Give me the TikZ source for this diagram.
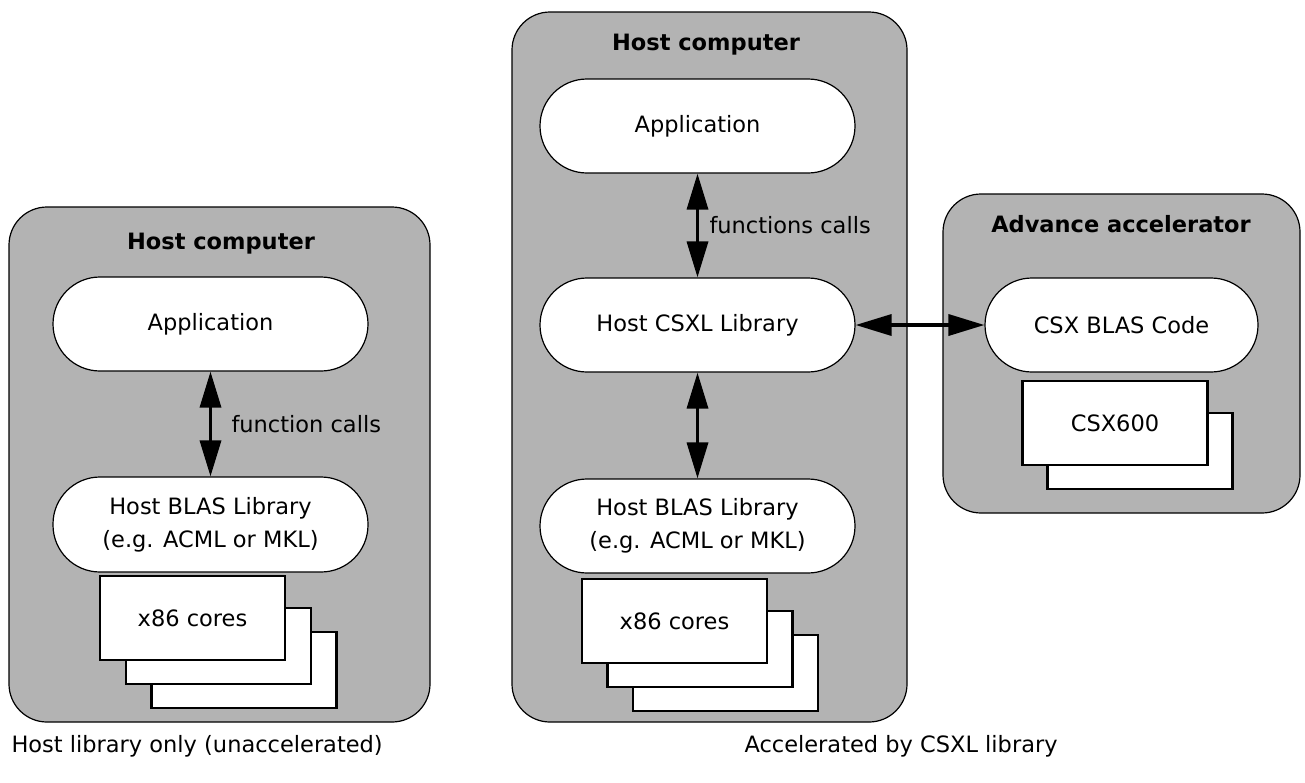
\documentclass[tikz,border=0pt]{standalone}
\usepackage{fontspec}
\setmainfont{DejaVu Sans}
\usetikzlibrary{arrows.meta}
\definecolor{hostgray}{RGB}{179,179,179}
\newcommand{\txt}{\fontsize{22.5}{33}\selectfont}
\begin{document}
\begin{tikzpicture}[x=1pt, y=-1pt]
	\tikzstyle{box}   = [draw=black, line width=1.2pt, fill=hostgray, rounded corners=38pt, inner sep=0pt]
	\tikzstyle{pill}  = [draw=black, line width=1.2pt, fill=white, rounded corners=47pt, minimum width=315pt, minimum height=94pt, inner sep=0pt, align=center, font=\txt]
	\tikzstyle{chip}  = [draw=black, line width=2.5pt, fill=white, minimum width=185pt, inner sep=0pt, font=\txt]
	\tikzstyle{title} = [font=\txt\bfseries]
	\tikzstyle{label} = [font=\txt, anchor=west]
	\tikzstyle{link}  = [{Triangle[length=36pt,width=21pt]}-{Triangle[length=36pt,width=21pt]}, line width=3.5pt]

	\fill[white] (0,0) rectangle (1305,782);
	\useasboundingbox (0,0) rectangle (1305,782);

	% containers
	\node[box, minimum width=421pt, minimum height=515pt] (hostA) at (219.5,464.5) {};
	\node[box, minimum width=395pt, minimum height=710pt] (hostB) at (709.5,367) {};
	\node[box, minimum width=357pt, minimum height=319pt] (accel) at (1121.5,353.5) {};

	\node[title] (titleA) at (221,244) {Host computer};
	\node[title] (titleB) at (706,45) {Host computer};
	\node[title] (titleC) at (1121,224) {Advance accelerator};

	% software layers
	\node[pill] (appA) at (210.5,324) {Application};
	\node[pill, minimum height=95pt] (blasA) at (210.5,524.5) {Host BLAS Library\\(e.g. ACML or MKL)};
	\node[pill] (appB) at (697.5,126) {Application};
	\node[pill] (csxl) at (697.5,325) {Host CSXL Library};
	\node[pill] (blasB) at (697.5,526) {Host BLAS Library\\(e.g. ACML or MKL)};
	\node[pill, minimum width=273pt] (csxcode) at (1121.5,325) {CSX BLAS Code};

	% hardware stacks
	\foreach \name/\x/\y in {coresA3/244/670, coresA2/218.5/646, coresB3/725.5/673, coresB2/700/649, csx2/1140/451}
		\node[chip, minimum height=76pt] (\name) at (\x,\y) {};
	\node[chip, minimum height=84pt] (coresA1) at (192.5,618) {x86 cores};
	\node[chip, minimum height=84pt] (coresB1) at (674.5,621) {x86 cores};
	\node[chip, minimum height=84pt] (csx1) at (1115,423) {CSX600};

	% calls
	\foreach \from/\to in {appA/blasA, appB/csxl, csxl/blasB}
		\draw[link] (\from) -- (\to);
	\draw[link] (csxl.east) -- (csxcode.west);

	\node[label] (callsA) at (228,424) {function calls};
	\node[label] (callsB) at (706,225) {functions calls};

	\node[label] (capA) at (8,746) {Host library only (unaccelerated)};
	\node[label] (capB) at (741,746) {Accelerated by CSXL library};
\end{tikzpicture}
\end{document}
